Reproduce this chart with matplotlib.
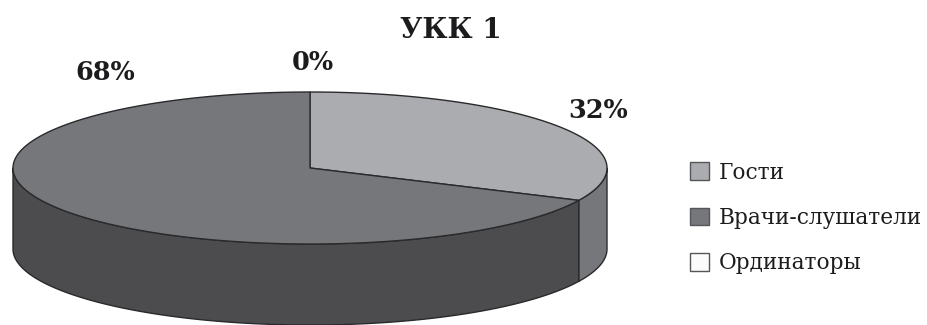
import numpy as np
import matplotlib
matplotlib.use("Agg")
import matplotlib.pyplot as plt
from matplotlib.patches import Polygon, Rectangle

title = "УКК 1"
categories = ["Гости", "Врачи-слушатели", "Ординаторы"]
shares = [32, 68, 0]
top_colors = ["#abacb0", "#76777b", "#fbfbfb"]
side_colors = ["#76777b", "#4c4c4e", "#ffffff"]
label_positions = [(598, 110), (105, 73), (313, 62)]

# Pie geometry, in pixel units
cx, cy, rx, ry, depth = 310, 168, 297, 76, 81
EDGE = "#2a2a2c"

plt.rcParams["font.family"] = ["DejaVu Serif"]
fig = plt.figure(figsize=(9.28, 3.25), dpi=100)
ax = fig.add_axes([0, 0, 1, 1])
ax.set_xlim(0, 928)
ax.set_ylim(325, 0)
ax.axis("off")


def rim(a0, a1, dy=0.0):
    """Points along the ellipse, angles measured clockwise from the top."""
    t = np.radians(np.linspace(a0, a1, max(int(abs(a1 - a0) * 2), 2)))
    return np.column_stack([cx + rx * np.sin(t), cy - ry * np.cos(t) + dy])


angle = 0.0
spans = []
for share in shares:
    span = share / sum(shares) * 360
    spans.append((angle, angle + span))
    angle += span

# Visible side walls (front half of the ellipse only, 90..270 degrees)
for (a0, a1), col in zip(spans, side_colors):
    lo, hi = max(a0, 90), min(a1, 270)
    if hi > lo:
        upper = rim(lo, hi)
        lower = rim(hi, lo, depth)
        ax.add_patch(Polygon(np.vstack([upper, lower]), closed=True, fc=col,
                             ec=EDGE, lw=1.0, joinstyle="round", zorder=1))

# Top faces
for (a0, a1), col in zip(spans, top_colors):
    if a1 > a0:
        pts = np.vstack([[cx, cy], rim(a0, a1)])
        ax.add_patch(Polygon(pts, closed=True, fc=col, ec=EDGE, lw=1.0,
                             joinstyle="round", zorder=2))

# Percentage labels
for share, (x, y) in zip(shares, label_positions):
    ax.text(x, y, f"{share}%", ha="center", va="center", fontsize=18.4,
            fontweight="bold", color="#1c1c1e", zorder=3)

ax.text(451, 30, title, ha="center", va="center", fontsize=20,
        fontweight="bold", color="#1c1c1e")

handles = [Rectangle((0, 0), 1, 1, fc=c, ec="#55565a", lw=1.0) for c in top_colors]
ax.legend(handles, categories, loc="center left",
          bbox_to_anchor=(690 / 928, 1 - 218 / 325), frameon=False,
          fontsize=15.6, labelcolor="#1c1c1e", handlelength=0.87, handleheight=0.87,
          handletextpad=0.44, labelspacing=1.08, borderpad=0, borderaxespad=0)

fig.savefig("out.png", dpi=100)
